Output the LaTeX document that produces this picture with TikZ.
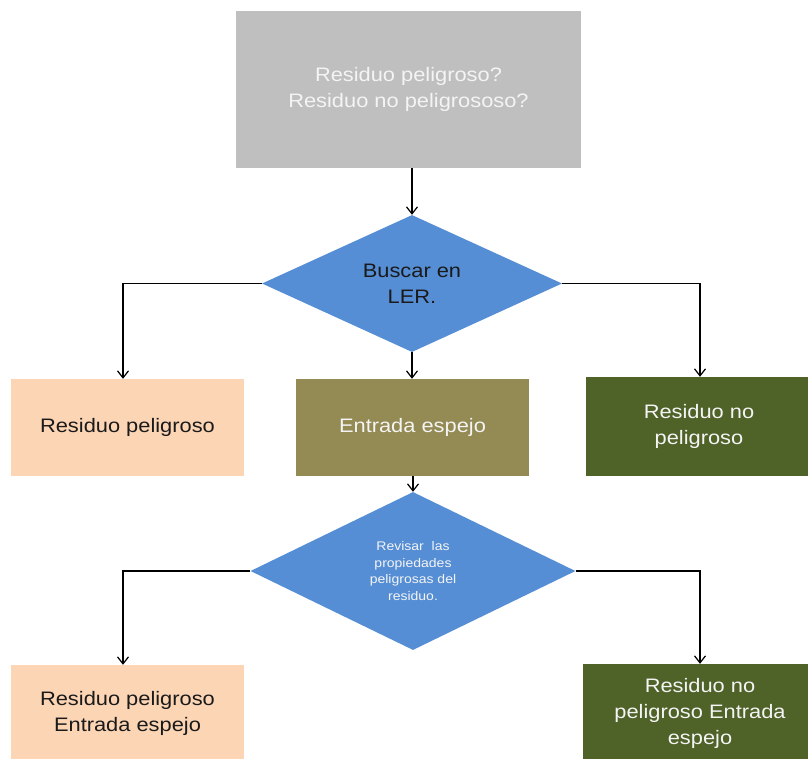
\documentclass[tikz,border=0pt]{standalone}
\usepackage{fontspec}
\setmainfont[FakeStretch=1.12]{Liberation Sans}
\usetikzlibrary{shapes.geometric,arrows.meta}
\definecolor{grayc}{HTML}{BFBFBF}
\definecolor{bluec}{HTML}{558ED5}
\definecolor{peachc}{HTML}{FCD5B5}
\definecolor{olivec}{HTML}{948A54}
\definecolor{greenc}{HTML}{4F6228}
\definecolor{lightt}{HTML}{F4F4F4}
\definecolor{darkt}{HTML}{1A1A1A}
\begin{document}
\begin{tikzpicture}[x=1pt,y=-1pt,
  box/.style={rectangle, inner sep=0pt, align=center, font=\fontsize{19.5}{26}\selectfont},
  dia/.style={diamond, inner sep=0pt, align=center},
  arr/.style={draw=black, line width=1.2pt, -{Straight Barb[length=7pt,width=11pt]}}]
\useasboundingbox (0,0) rectangle (808,758);
\clip (0,0) rectangle (808,758);
\fill[white] (0,0) rectangle (808,758);
\node[box, fill=grayc, text=lightt, minimum width=345pt, minimum height=157pt] (top) at (408.5,89.5) {Residuo peligroso?\\Residuo no peligrososo?};
\node[dia, fill=bluec, text=darkt, minimum width=300pt, minimum height=137pt, aspect=2.19, font=\fontsize{19.5}{26}\selectfont] (d1) at (412,283.5) {Buscar en\\LER.};
\node[box, fill=peachc, text=darkt, minimum width=233pt, minimum height=97pt] (hp) at (127.5,427.5) {Residuo peligroso};
\node[box, fill=olivec, text=lightt, minimum width=233pt, minimum height=97pt] (ee) at (412.5,427.5) {Entrada espejo};
\node[box, fill=greenc, text=lightt, minimum width=226pt, minimum height=99pt] (np) at (699,426.5) {Residuo no\\peligroso};
\node[dia, fill=bluec, text=lightt, minimum width=325pt, minimum height=158pt, aspect=2.06, font=\fontsize{12.5}{16.5}\selectfont] (d2) at (413,571) {Revisar~ las\\propiedades\\peligrosas del\\residuo.};
\node[box, fill=peachc, text=darkt, minimum width=233pt, minimum height=97pt] (hpe) at (127.5,713.5) {Residuo peligroso\\Entrada espejo};
\node[box, fill=greenc, text=lightt, minimum width=234pt, minimum height=98pt] (npe) at (700,713) {Residuo no\\peligroso Entrada\\espejo};
\draw[arr] (d1.north |- top.south) -- (d1.north);
\draw[arr] (d1.west) -| ([xshift=-4.5pt]hp.north);
\draw[arr] (d1.east) -| ([xshift=1pt]np.north);
\draw[arr] (d1.south) -- (d1.south |- ee.north);
\draw[arr] (d2.north |- ee.south) -- (d2.north);
\draw[arr] (d2.west) -| ([xshift=-4.5pt]hpe.north);
\draw[arr] (d2.east) -| (npe.north);
\end{tikzpicture}
\end{document}
